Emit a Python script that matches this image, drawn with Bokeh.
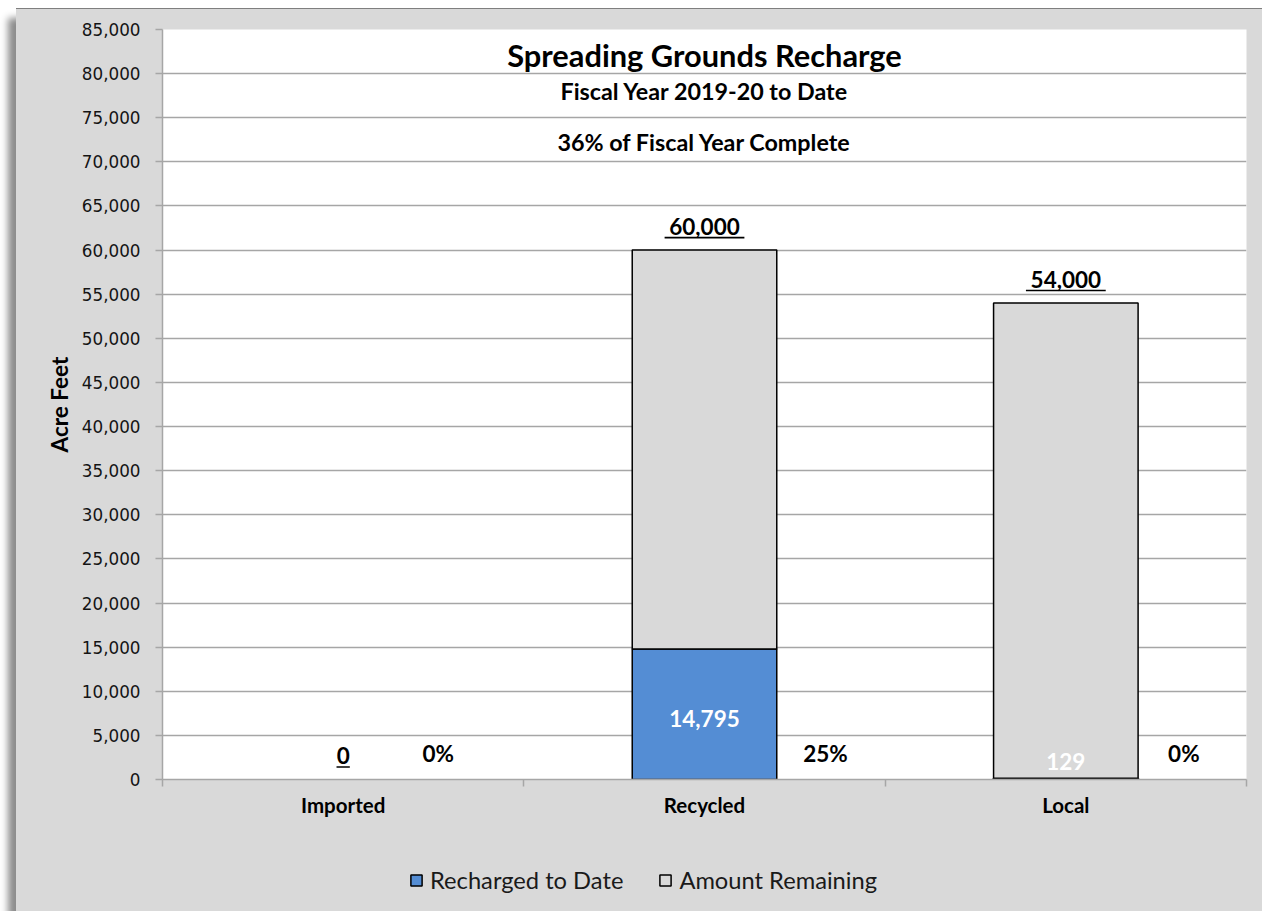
from bokeh.plotting import figure
from bokeh.layouts import column
from bokeh.models import (FactorRange, Range1d, LinearAxis, CategoricalAxis, FixedTicker,
                          SingleIntervalTicker, NumeralTickFormatter, ColumnDataSource,
                          Label, Legend, LegendItem)
from bokeh.core.properties import value
from bokeh.embed import file_html
from bokeh.resources import INLINE

# ---------------- data ----------------
categories = ["Imported", "Recycled", "Local"]
totals = [0, 60000, 54000]
recharged = [0, 14795, 129]
y_max = 85000
y_step = 5000
title_main = "Spreading Grounds Recharge"
title_sub1 = "Fiscal Year 2019-20 to Date"
title_sub2 = "36% of Fiscal Year Complete"
series_names = ["Recharged to Date", "Amount Remaining"]

# ---------------- derived ----------------
remaining = [t - r for t, r in zip(totals, recharged)]
pct_labels = [("%d%%" % round(100.0 * r / t)) if t else "0%" for r, t in zip(recharged, totals)]
total_labels = ["{:,}".format(t) for t in totals]
rech_labels = ["{:,}".format(r) if r else "-" for r in recharged]

# ---------------- layout constants ----------------
FIG_W, FIG_H = 1246, 832
LEG_H = 71
LEFT, RIGHT, TOP = 146, 16, 20
FRAME_H = 750
BOTTOM = FIG_H - TOP - FRAME_H
PX = y_max / FRAME_H  # data units per pixel

BLUE = "#548DD4"
GREY = "#D9D9D9"
GRID = "#A6A6A6"
BOLD_FONT = "Lato"

src = ColumnDataSource(dict(
    cat=categories,
    total=totals,
    rech=recharged,
    rem=remaining,
    rech_line=["black" if r > 0 else "rgba(0,0,0,0)" for r in recharged],
    rem_line=["black" if m > 0 else "rgba(0,0,0,0)" for m in remaining],
    total_lbl=total_labels,
    rech_lbl=rech_labels,
    pct_lbl=pct_labels,
    rech_mid=[r / 2.0 for r in recharged],
    rech_yoff=[-4, 4, -17],
    pct_xoff=[95, 121, 118],
    ul_y=[t + 12.5 * PX for t in totals],
    ul_w=[13.3 * len(s) for s in total_labels],
))

p = figure(width=FIG_W, height=FIG_H, x_range=FactorRange(factors=categories),
           y_range=Range1d(0, y_max), output_backend="svg", toolbar_location=None,
           x_axis_location=None, min_border_left=LEFT, min_border_right=RIGHT,
           min_border_top=TOP, min_border_bottom=BOTTOM)
p.background_fill_color = "white"
p.border_fill_color = GREY
p.outline_line_color = None

# y axis
yax = p.yaxis[0]
yax.ticker = SingleIntervalTicker(interval=y_step)
yax.formatter = NumeralTickFormatter(format="0,0")
yax.major_label_text_font = "DejaVu Sans"
yax.major_label_text_font_size = "16.8px"
yax.major_label_text_color = "#141414"
yax.axis_line_color = GRID
yax.axis_line_width = 1.5
yax.major_tick_line_color = GRID
yax.major_tick_line_width = 1.5
yax.major_tick_out = 7
yax.major_tick_in = 0
yax.minor_tick_line_color = None
yax.major_label_standoff = 15
yax.axis_label = "Acre Feet"
yax.axis_label_text_font = BOLD_FONT
yax.axis_label_text_font_style = "bold"
yax.axis_label_text_font_size = "22.5px"
yax.axis_label_text_color = "black"
yax.axis_label_standoff = 6

p.ygrid.ticker = SingleIntervalTicker(interval=y_step)
p.ygrid.grid_line_color = GRID
p.ygrid.grid_line_width = 1.5
p.xgrid.grid_line_color = None

# x axis: boundary ticks (synthetic category coordinates) + category labels
tick_ax = LinearAxis(ticker=FixedTicker(ticks=list(range(len(categories) + 1))),
                     major_label_text_font_size="1px", major_label_text_color=None,
                     major_label_standoff=0,
                     axis_line_color=GRID, axis_line_width=1.5,
                     major_tick_line_color=GRID, major_tick_line_width=1.5,
                     major_tick_out=7, major_tick_in=0, minor_tick_line_color=None)
p.add_layout(tick_ax, "below")
cat_ax = CategoricalAxis(axis_line_color=None, major_tick_line_color=None,
                         major_label_text_font=BOLD_FONT, major_label_text_font_style="bold",
                         major_label_text_font_size="20.5px", major_label_text_color="black",
                         major_label_standoff=0)
p.add_layout(cat_ax, "below")

# bars
r_rech = p.vbar(x="cat", bottom=0, top="rech", width=0.4, source=src,
                fill_color=BLUE, line_color="rech_line", line_width=1.5)
r_rem = p.vbar(x="cat", bottom="rech", top="total", width=0.4, source=src,
               fill_color=GREY, line_color="rem_line", line_width=1.5)

# labels
p.text(x="cat", y="total", text="total_lbl", source=src, y_offset=-24,
       text_align="center", text_baseline="middle", text_font=value(BOLD_FONT),
       text_font_style="bold", text_font_size="22.5px", text_color="black")
p.rect(x="cat", y="ul_y", width="ul_w", height=1.6, width_units="screen", height_units="screen",
       source=src, fill_color="black", line_color=None)
p.text(x="cat", y="rech_mid", text="rech_lbl", source=src, y_offset="rech_yoff",
       text_align="center", text_baseline="middle", text_font=value(BOLD_FONT),
       text_font_style="bold", text_font_size="22.5px", text_color="white")
p.text(x="cat", y=0, text="pct_lbl", source=src, x_offset="pct_xoff", y_offset=-26,
       text_align="center", text_baseline="middle", text_font=value(BOLD_FONT),
       text_font_style="bold", text_font_size="22.5px", text_color="black")

# titles inside plot area (x = synthetic centre of the category range)
for txt, ypix, size in [(title_main, 54, "30.8px"), (title_sub1, 89, "23.3px"), (title_sub2, 140, "23.3px")]:
    p.add_layout(Label(x=len(categories) / 2.0, y=(778 - ypix) * PX, text=txt,
                       text_align="center", text_baseline="middle", text_font=BOLD_FONT,
                       text_font_style="bold", text_font_size=size, text_color="black"))

# legend strip below the chart (frame aligned with the main chart's frame)
p2 = figure(width=FIG_W, height=LEG_H, x_range=Range1d(0, 1), y_range=Range1d(0, 1),
            output_backend="svg", toolbar_location=None, x_axis_location=None,
            y_axis_location=None, min_border_left=LEFT, min_border_right=RIGHT,
            min_border_top=0, min_border_bottom=0)
p2.background_fill_alpha = 0
p2.border_fill_color = GREY
p2.outline_line_color = None
p2.xgrid.grid_line_color = None
p2.ygrid.grid_line_color = None
leg_rech = p2.rect(x=[-10], y=[-10], width=1, height=1, fill_color=BLUE,
                   line_color="black", line_width=1.5)
leg_rem = p2.rect(x=[-10], y=[-10], width=1, height=1, fill_color=GREY,
                  line_color="black", line_width=1.5)
legend = Legend(items=[LegendItem(label=series_names[0], renderers=[leg_rech]),
                       LegendItem(label=series_names[1], renderers=[leg_rem])],
                orientation="horizontal", location=(247, 18),
                label_text_font=BOLD_FONT, label_text_font_size="23.7px", label_text_color="#1a1a1a",
                glyph_width=14, glyph_height=14, label_standoff=7, spacing=35,
                padding=0, margin=0, background_fill_alpha=0, border_line_color=None)
p2.add_layout(legend, "center")

layout = column(p, p2, spacing=0)
layout.margin = (8, 0, 0, 16)
layout.styles = {"box-shadow": "-8px 10px 7px rgba(0,0,0,0.45)",
                 "border-top": "1px solid #7f7f7f",
                 "background-color": GREY}

open("out.html", "w").write(file_html(layout, INLINE))
